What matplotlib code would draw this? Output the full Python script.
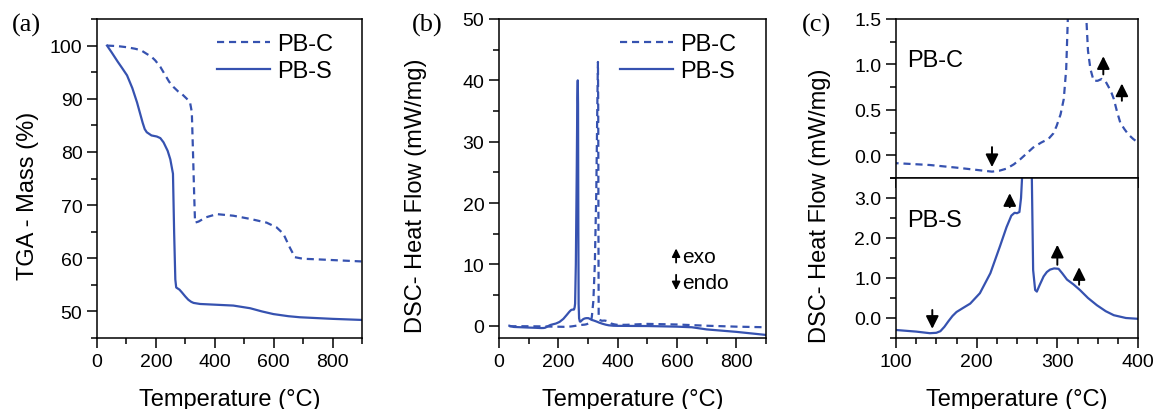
import matplotlib
matplotlib.use('Agg')
import matplotlib.pyplot as plt
from matplotlib.ticker import MultipleLocator, FormatStrFormatter

plt.rcParams['font.family'] = ['Liberation Sans', 'DejaVu Sans']
plt.rcParams['axes.linewidth'] = 1.1

BLUE = '#3652b0'
DASH = (0, (3.2, 2.2))

# TGA (panel a)
tga_c_temp = [34, 70, 100, 130, 150, 170, 185, 198, 215, 230, 245, 260, 275, 290, 305, 316, 322, 326,
              330, 333, 345, 370, 407, 463, 520, 576, 610, 633, 655, 672, 700, 746, 898]
tga_c_mass = [100, 99.9, 99.7, 99.4, 99.1, 98.4, 97.9, 97.2, 96.0, 94.6, 93.2, 92.2, 91.4, 90.8,
              90.0, 89.3, 87.5, 80, 72, 66.7, 66.9, 67.7, 68.3, 68.0, 67.4, 66.7, 65.8, 64.6, 62.0,
              60.2, 59.9, 59.8, 59.4]
tga_s_temp = [34, 50, 70, 85, 102, 120, 136, 146, 155, 162, 169, 185, 203, 215, 226, 240, 249, 258,
              262, 266, 269, 280, 288, 300, 310, 320, 328, 350, 463, 520, 560, 599, 650, 689, 800, 898]
tga_s_mass = [100, 98.7, 97.0, 95.8, 94.4, 92.0, 89.3, 87.3, 85.5, 84.3, 83.7, 83.1, 82.9, 82.6,
              81.8, 80.2, 78.6, 75.9, 64.8, 56.0, 54.5, 54.1, 53.6, 52.8, 52.2, 51.8, 51.6, 51.4,
              51.1, 50.6, 50.0, 49.5, 49.1, 48.9, 48.6, 48.4]

# DSC (panels b and c)
dsc_c_temp = [35, 60, 103, 142, 175, 204, 219, 228, 237, 246, 254, 262, 270, 280, 289, 295, 299,
              304, 308, 311, 313, 318, 323, 328, 332, 333.5, 334.5, 335.5, 336, 338, 341, 345, 350,
              355, 360, 363.7, 367, 370, 374, 378, 383, 388, 394, 400, 430, 500, 600, 700, 800, 900]
dsc_c_flow = [-0.1, -0.08, -0.088, -0.107, -0.136, -0.165, -0.18, -0.17, -0.147, -0.1, -0.044, 0.02,
              0.085, 0.14, 0.18, 0.24, 0.32, 0.45, 0.62, 0.95, 1.5, 4, 10, 22, 38, 43, 35, 10, 1.5,
              1.15, 0.95, 0.82, 0.82, 0.84, 0.81, 0.75, 0.69, 0.62, 0.48, 0.36, 0.29, 0.23, 0.18,
              0.14, 0.15, 0.3, 0.2, 0.0, -0.15, -0.25]
dsc_s_temp = [35, 50, 100, 125, 142, 150, 155, 160, 165, 170, 175, 183, 192, 204, 217, 229, 237, 243,
              247, 250, 253, 255, 256.5, 259, 262, 264, 265.5, 266.5, 267.5, 268.4, 270, 272.5,
              274.6, 278, 283, 287, 291, 296, 301.5, 306, 312, 320, 328, 338, 349, 360, 370, 385,
              400, 500, 600, 650, 700, 800, 900]
dsc_s_flow = [0.0, -0.2, -0.3, -0.34, -0.38, -0.37, -0.33, -0.22, -0.08, 0.05, 0.15, 0.25, 0.36,
              0.62, 1.12, 1.8, 2.27, 2.56, 2.63, 2.62, 2.65, 3.0, 3.6, 10, 25, 37, 40, 36, 15, 3.5,
              1.2, 0.7, 0.66, 0.82, 1.04, 1.15, 1.21, 1.24, 1.23, 1.12, 0.96, 0.84, 0.7, 0.5, 0.32,
              0.17, 0.07, 0.0, -0.02, -0.05, -0.15, -0.25, -0.6, -1.0, -1.5]


def style_axis(ax):
    ax.tick_params(which='both', direction='out', top=False, right=False, width=1.1, labelsize=14)
    ax.tick_params(which='major', length=7)
    ax.tick_params(which='minor', length=4)


W, H = 1154, 410
fig = plt.figure(figsize=(W / 100, H / 100), dpi=100)


def px_axes(left, right, top, bottom):
    return fig.add_axes([left / W, 1 - bottom / H, (right - left) / W, (bottom - top) / H])


# (a) TGA
ax_a = px_axes(97, 362, 20, 339)
ax_a.plot(tga_c_temp, tga_c_mass, color=BLUE, lw=1.6, ls=DASH, label='PB-C')
ax_a.plot(tga_s_temp, tga_s_mass, color=BLUE, lw=1.6, label='PB-S')
ax_a.set_xlim(0, 900)
ax_a.set_ylim(45, 105)
ax_a.xaxis.set_major_locator(MultipleLocator(200))
ax_a.xaxis.set_minor_locator(MultipleLocator(100))
ax_a.yaxis.set_major_locator(MultipleLocator(10))
ax_a.yaxis.set_minor_locator(MultipleLocator(5))
style_axis(ax_a)
ax_a.set_xlabel('Temperature (°C)', fontsize=17, labelpad=13)
ax_a.set_ylabel('TGA - Mass (%)', fontsize=17)
ax_a.yaxis.set_label_coords(-0.22, 0.448)
ax_a.legend(loc='upper left', bbox_to_anchor=(0.453, 0.955), frameon=False, fontsize=17,
            handlelength=2.25, handletextpad=0.3, labelspacing=0.2, borderpad=0, borderaxespad=0)

# (b) DSC full range
ax_b = px_axes(499, 766, 20, 339)
ax_b.plot(dsc_c_temp, dsc_c_flow, color=BLUE, lw=1.6, ls=DASH, label='PB-C')
ax_b.plot(dsc_s_temp, dsc_s_flow, color=BLUE, lw=1.6, label='PB-S')
ax_b.set_xlim(0, 900)
ax_b.set_ylim(-2, 50)
ax_b.xaxis.set_major_locator(MultipleLocator(200))
ax_b.xaxis.set_minor_locator(MultipleLocator(100))
ax_b.yaxis.set_major_locator(MultipleLocator(10))
ax_b.yaxis.set_minor_locator(MultipleLocator(5))
style_axis(ax_b)
ax_b.set_xlabel('Temperature (°C)', fontsize=17, labelpad=13)
ax_b.set_ylabel('DSC- Heat Flow (mW/mg)', fontsize=17)
ax_b.yaxis.set_label_coords(-0.27, 0.448)
ax_b.legend(loc='upper left', bbox_to_anchor=(0.453, 0.955), frameon=False, fontsize=17,
            handlelength=2.25, handletextpad=0.3, labelspacing=0.2, borderpad=0, borderaxespad=0)
arrow_small = dict(arrowstyle='-|>', color='k', lw=1.3, mutation_scale=12, shrinkA=0, shrinkB=0)
ax_b.annotate('', xy=(597, 12.6), xytext=(597, 10.3), arrowprops=arrow_small)
ax_b.annotate('', xy=(597, 5.8), xytext=(597, 8.3), arrowprops=arrow_small)
ax_b.text(618, 11.3, 'exo', fontsize=15, va='center', ha='left')
ax_b.text(618, 7.1, 'endo', fontsize=15, va='center', ha='left')

# (c) DSC zoom, two stacked panels
ax_c1 = px_axes(896, 1138, 20, 179)
ax_c2 = px_axes(896, 1138, 179, 339)
ax_c1.plot(dsc_c_temp, dsc_c_flow, color=BLUE, lw=1.6, ls=DASH)
ax_c2.plot(dsc_s_temp, dsc_s_flow, color=BLUE, lw=1.6)
for ax in (ax_c1, ax_c2):
    ax.set_xlim(100, 400)
    ax.xaxis.set_major_locator(MultipleLocator(100))
    ax.xaxis.set_minor_locator(MultipleLocator(25))
    style_axis(ax)
ax_c1.set_ylim(-0.25, 1.5)
ax_c1.yaxis.set_major_locator(MultipleLocator(0.5))
ax_c1.yaxis.set_minor_locator(MultipleLocator(0.25))
ax_c1.yaxis.set_major_formatter(FormatStrFormatter('%.1f'))
ax_c1.tick_params(axis='x', labelbottom=False)
ax_c2.set_ylim(-0.5, 3.5)
ax_c2.yaxis.set_major_locator(MultipleLocator(1))
ax_c2.yaxis.set_minor_locator(MultipleLocator(0.5))
ax_c2.yaxis.set_major_formatter(FormatStrFormatter('%.1f'))
ax_c2.set_xlabel('Temperature (°C)', fontsize=17, labelpad=13)
fig.text(820 / W, 1 - 206 / H, 'DSC- Heat Flow (mW/mg)', fontsize=17, rotation=90,
         ha='center', va='center')
ax_c1.text(0.045, 0.745, 'PB-C', transform=ax_c1.transAxes, fontsize=17, va='center')
ax_c2.text(0.045, 0.735, 'PB-S', transform=ax_c2.transAxes, fontsize=17, va='center')

arrow_big = dict(arrowstyle='-|>', color='k', lw=1.4, mutation_scale=19, shrinkA=0, shrinkB=0)
# top panel markers (PB-C)
ax_c1.annotate('', xy=(219, -0.13), xytext=(219, 0.09), arrowprops=arrow_big)
ax_c1.annotate('', xy=(357, 1.09), xytext=(357, 0.89), arrowprops=arrow_big)
ax_c1.annotate('', xy=(380, 0.79), xytext=(380, 0.60), arrowprops=arrow_big)
# bottom panel markers (PB-S)
ax_c2.annotate('', xy=(145, -0.27), xytext=(145, 0.2), arrowprops=arrow_big)
ax_c2.annotate('', xy=(241, 3.12), xytext=(241, 2.77), arrowprops=arrow_big)
ax_c2.annotate('', xy=(300, 1.83), xytext=(300, 1.33), arrowprops=arrow_big)
ax_c2.annotate('', xy=(327, 1.27), xytext=(327, 0.83), arrowprops=arrow_big)

# panel letters
for x, lab in ((12, '(a)'), (412, '(b)'), (802, '(c)')):
    fig.text(x / W, 1 - 25 / H, lab, fontsize=19, family=['Liberation Serif', 'DejaVu Serif'],
             ha='left', va='center')

fig.savefig('out.png', dpi=100)
